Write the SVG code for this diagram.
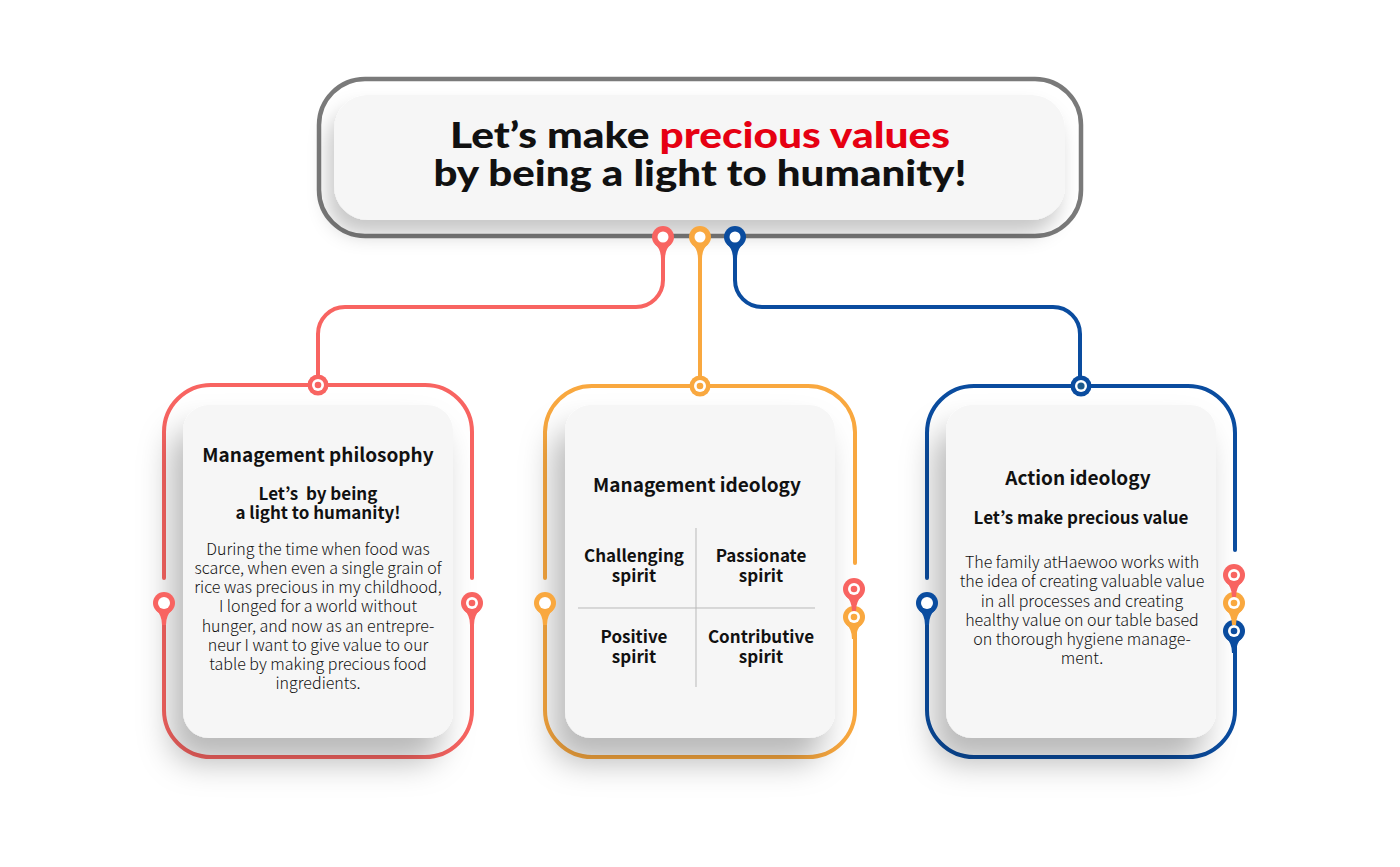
<svg xmlns="http://www.w3.org/2000/svg" xmlns:xlink="http://www.w3.org/1999/xlink" width="1400" height="867" viewBox="0 0 1400 867">
<style>
.title{font-family:Lato,"Open Sans","Liberation Sans",sans-serif;font-weight:900;font-size:36px;fill:#111;text-anchor:middle}
.hl{fill:#e60012}
.h1{font-family:"Noto Sans CJK KR","Noto Sans",sans-serif;font-weight:700;font-size:19px;fill:#111;text-anchor:middle}
.h2{font-family:"Noto Sans CJK KR","Noto Sans",sans-serif;font-weight:700;font-size:17px;fill:#111;text-anchor:middle;white-space:pre}
.body{font-family:"Noto Sans CJK KR","Noto Sans",sans-serif;font-weight:300;font-size:16px;fill:#111;text-anchor:middle}
.frame{fill:none;stroke-width:4;stroke-linecap:round}
.red{stroke:#f86461}
.org{stroke:#f9a83f}
.blu{stroke:#0a4c9f}
.inner{fill:#f6f6f6}
.conn{fill:none;stroke-width:4}
</style>
<defs>
<filter id="sh" x="-30%" y="-30%" width="160%" height="170%">
<feDropShadow dx="-12" dy="24" stdDeviation="16" flood-color="#000" flood-opacity="0.28"/>
</filter>
<filter id="shTop" x="-10%" y="-30%" width="120%" height="180%">
<feDropShadow dx="-6" dy="14" stdDeviation="10" flood-color="#000" flood-opacity="0.22"/>
</filter>
<g id="pin">
<circle cx="0" cy="0" r="11"/>
<path d="M-8,7 Q-2,12 -2,22 L2,22 Q2,12 8,7 Z"/>
</g>
</defs>

<!-- top node -->
<g id="top">
<rect x="319" y="79" width="762" height="157" rx="46" fill="#fff" stroke="#7a7a7a" stroke-width="4.5"/>
<rect x="334" y="95" width="731" height="125" rx="34" class="inner" filter="url(#shTop)"/>
<text class="title" x="700" y="148" textLength="500" lengthAdjust="spacingAndGlyphs">Let’s make <tspan class="hl">precious values</tspan></text>
<text class="title" x="700" y="186" textLength="533" lengthAdjust="spacingAndGlyphs">by being a light to humanity!</text>
</g>

<!-- connectors -->
<g id="connectors">
<path class="conn red" d="M663,248 L663,280 A27,27 0 0 1 636,307 L345,307 A27,27 0 0 0 318,334 L318,380"/>
<path class="conn org" d="M700,248 L700,380"/>
<path class="conn blu" d="M735,248 L735,280 A27,27 0 0 0 762,307 L1053,307 A27,27 0 0 1 1080,334 L1080,380"/>
<g fill="#f86461"><use xlink:href="#pin" x="663" y="237"/></g>
<circle cx="663" cy="237" r="5.5" fill="#fff"/>
<g fill="#f9a83f"><use xlink:href="#pin" x="700" y="237"/></g>
<circle cx="700" cy="237" r="5.5" fill="#fff"/>
<g fill="#0a4c9f"><use xlink:href="#pin" x="735" y="237"/></g>
<circle cx="735" cy="237" r="5.5" fill="#fff"/>
</g>

<!-- card 1 -->
<g id="philosophy">
<path class="frame red" d="M164,578 L164,432 A47,47 0 0 1 211,385 L425,385 A47,47 0 0 1 472,432 L472,578"/>
<path class="frame red" d="M472,610 L472,710 A47,47 0 0 1 425,757 L211,757 A47,47 0 0 1 164,710 L164,610"/>
<rect x="183" y="405" width="270" height="333" rx="26" class="inner" filter="url(#sh)"/>
<g fill="#f86461">
<circle cx="318" cy="385" r="10.5"/>
<use xlink:href="#pin" x="164" y="603"/>
<use xlink:href="#pin" x="472" y="603"/>
</g>
<circle cx="318" cy="385" r="6" fill="#fff"/><circle cx="318" cy="385" r="3.3" fill="#f86461"/>
<circle cx="164" cy="603" r="6" fill="#fff"/>
<circle cx="472" cy="603" r="6" fill="#fff"/><circle cx="472" cy="603" r="3.3" fill="#f86461"/>
<text class="h1" x="318" y="462">Management philosophy</text>
<text class="h2" x="318" y="500">Let’s  by being</text>
<text class="h2" x="318" y="519">a light to humanity!</text>
<text class="body" x="318" y="555">During the time when food was</text>
<text class="body" x="318" y="574">scarce, when even a single grain of</text>
<text class="body" x="318" y="593">rice was precious in my childhood,</text>
<text class="body" x="318" y="612">I longed for a world without</text>
<text class="body" x="318" y="632">hunger, and now as an entrepre-</text>
<text class="body" x="318" y="651">neur I want to give value to our</text>
<text class="body" x="318" y="670">table by making precious food</text>
<text class="body" x="318" y="689">ingredients.</text>
</g>

<!-- card 2 -->
<g id="ideology">
<path class="frame org" d="M545,578 L545,432 A47,47 0 0 1 592,386 L808,386 A47,47 0 0 1 855,432 L855,563"/>
<path class="frame org" d="M855,625 L855,710 A47,47 0 0 1 808,757 L592,757 A47,47 0 0 1 545,710 L545,610"/>
<rect x="565" y="405" width="270" height="333" rx="26" class="inner" filter="url(#sh)"/>
<g fill="#f9a83f">
<circle cx="700" cy="386" r="10.5"/>
<use xlink:href="#pin" x="545" y="603"/>
<use xlink:href="#pin" x="854" y="617"/>
</g>
<g fill="#f86461"><use xlink:href="#pin" x="854" y="589"/></g>
<circle cx="700" cy="386" r="6" fill="#fff"/><circle cx="700" cy="386" r="3.3" fill="#f9a83f"/>
<circle cx="545" cy="603" r="6" fill="#fff"/>
<circle cx="854" cy="589" r="6" fill="#fff"/><circle cx="854" cy="589" r="3.3" fill="#f86461"/>
<circle cx="854" cy="617" r="6" fill="#fff"/><circle cx="854" cy="617" r="3.3" fill="#f9a83f"/>
<text class="h1" x="697" y="492">Management ideology</text>
<line x1="696" y1="528" x2="696" y2="687" stroke="#b9b9b9" stroke-width="1"/>
<line x1="578" y1="608" x2="815" y2="608" stroke="#b9b9b9" stroke-width="1"/>
<text class="h2" x="634" y="562">Challenging</text>
<text class="h2" x="634" y="582">spirit</text>
<text class="h2" x="761" y="562">Passionate</text>
<text class="h2" x="761" y="582">spirit</text>
<text class="h2" x="634" y="643">Positive</text>
<text class="h2" x="634" y="663">spirit</text>
<text class="h2" x="761" y="643">Contributive</text>
<text class="h2" x="761" y="663">spirit</text>
</g>

<!-- card 3 -->
<g id="action">
<path class="frame blu" d="M927,578 L927,433 A47,47 0 0 1 974,386 L1188,386 A47,47 0 0 1 1235,433 L1235,550"/>
<path class="frame blu" d="M1235,640 L1235,710 A47,47 0 0 1 1188,757 L974,757 A47,47 0 0 1 927,710 L927,610"/>
<rect x="946" y="405" width="270" height="333" rx="26" class="inner" filter="url(#sh)"/>
<g fill="#0a4c9f">
<circle cx="1081" cy="386" r="10.5"/>
<use xlink:href="#pin" x="927" y="603"/>
<use xlink:href="#pin" x="1234" y="631"/>
</g>
<g fill="#f9a83f"><use xlink:href="#pin" x="1234" y="603"/></g>
<g fill="#f86461"><use xlink:href="#pin" x="1234" y="575"/></g>
<circle cx="1081" cy="386" r="6" fill="#fff"/><circle cx="1081" cy="386" r="3.6" fill="#1d5a8c"/>
<circle cx="927" cy="603" r="6" fill="#fff"/>
<circle cx="1234" cy="575" r="6" fill="#fff"/><circle cx="1234" cy="575" r="3.3" fill="#f86461"/>
<circle cx="1234" cy="603" r="6" fill="#fff"/><circle cx="1234" cy="603" r="3.3" fill="#f9a83f"/>
<circle cx="1234" cy="631" r="6" fill="#fff"/><circle cx="1234" cy="631" r="3.3" fill="#0a4c9f"/>
<text class="h1" x="1078" y="485">Action ideology</text>
<text class="h2" x="1081" y="524">Let’s make precious value</text>
<text class="body" x="1082" y="568">The family atHaewoo works with</text>
<text class="body" x="1082" y="587">the idea of creating valuable value</text>
<text class="body" x="1082" y="607">in all processes and creating</text>
<text class="body" x="1082" y="626">healthy value on our table based</text>
<text class="body" x="1082" y="645">on thorough hygiene manage-</text>
<text class="body" x="1082" y="664">ment.</text>
</g>
</svg>
